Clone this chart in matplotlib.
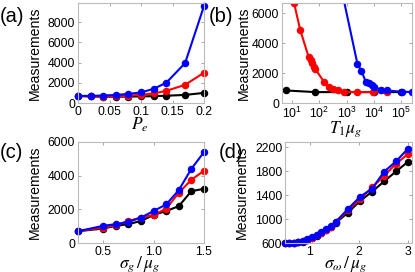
import matplotlib
matplotlib.use("Agg")
import matplotlib.pyplot as plt
from matplotlib.ticker import FixedFormatter

plt.rcParams['font.family'] = ['Liberation Sans', 'DejaVu Sans']
plt.rcParams['mathtext.fontset'] = 'stix'

# Panel (a): measurements vs P_e
pe = [0, 0.02, 0.04, 0.06, 0.08, 0.10, 0.12, 0.14, 0.17, 0.20]
a_blue = [700, 710, 740, 800, 900, 1050, 1400, 2000, 3950, 9600]
a_red = [700, 650, 640, 660, 720, 820, 950, 1200, 1800, 3000]
a_black = [700, 650, 620, 620, 640, 650, 680, 720, 800, 1000]

# Panel (b): measurements vs T1 mu_g (log x)
b_red_x = [12, 20, 41, 48, 55, 63, 72, 146, 222, 309, 468, 830, 2500, 9500, 31000]
b_red_y = [6670, 4890, 3070, 2890, 2670, 2440, 2270, 1440, 1070, 930, 840, 750, 730, 730, 730]
b_blue_x = [500, 2500, 3500, 5000, 6700, 8400, 10000, 19000, 31000, 110000, 250000]
b_blue_y = [8600, 2620, 2150, 1440, 1330, 1220, 1070, 890, 840, 750, 740]
b_black_x = [6, 72, 1000, 10000, 100000]
b_black_y = [840, 730, 730, 730, 730]
b_xticks = [1e1, 1e2, 1e3, 1e4, 1e5]
b_xticklabels = [r'$\mathregular{10^{1}}$', r'$\mathregular{10^{2}}$', r'$\mathregular{10^{3}}$',
                 r'$\mathregular{10^{4}}$', r'$\mathregular{10^{5}}$']

# Panel (c): measurements vs sigma_g / mu_g
sg = [0.25, 0.5, 0.625, 0.75, 0.875, 1.0, 1.125, 1.25, 1.375, 1.5]
c_blue = [700, 1020, 1120, 1250, 1510, 1900, 2290, 3140, 4410, 5400]
c_red = [700, 920, 1060, 1310, 1510, 1670, 2040, 2980, 3760, 4290]
c_black = [700, 860, 1020, 1120, 1310, 1670, 1900, 2190, 3080, 3220]

# Panel (d): measurements vs sigma_w / mu_g
sw = [0.5, 0.59, 0.68, 0.77, 0.86, 0.95, 1.05, 1.14, 1.24, 1.33, 1.43, 1.53,
      1.78, 2.02, 2.27, 2.51, 2.76, 3.0]
d_blue = [605, 605, 605, 616, 634, 662, 697, 737, 777, 828, 880, 954,
          1170, 1370, 1510, 1790, 1970, 2180]
d_red = [600, 600, 600, 610, 628, 655, 690, 730, 770, 820, 872, 945,
         1150, 1330, 1530, 1720, 1930, 2090]
d_black = [600, 600, 600, 610, 625, 650, 685, 722, 762, 812, 865, 935,
           1110, 1300, 1460, 1630, 1800, 1960]

fig = plt.figure(figsize=(4.15, 2.72), dpi=100)
W, H = 415, 272

def mkax(l, t, r, b):
    return fig.add_axes([l / W, 1 - b / H, (r - l) / W, (b - t) / H])

ax_a = mkax(78, 3, 204, 103)
ax_b = mkax(282, 3, 412, 103)
ax_c = mkax(78, 142, 204, 243)
ax_d = mkax(285, 142, 412, 243)

lw = 1.5
ms = 4.4
tick_fs = 8.8
lab_fs = 10.2
xl_fs = 12.5

def style(ax):
    for s in ax.spines.values():
        s.set_color('#bbbbbb')
        s.set_linewidth(0.8)
    ax.tick_params(direction='in', length=2.5, width=0.6, color='#999999',
                   labelsize=tick_fs, pad=2, top=True, right=True)

def place_labels(ax, xl_pos, yl_pos):
    ax.xaxis.set_label_coords(xl_pos[0] / W, 1 - xl_pos[1] / H, transform=fig.transFigure)
    ax.xaxis.label.set_va('center')
    ax.yaxis.set_label_coords(yl_pos[0] / W, 1 - yl_pos[1] / H, transform=fig.transFigure)
    ax.yaxis.label.set_va('center')

# (a)
for y, c in [(a_black, 'k'), (a_red, 'r'), (a_blue, 'b')]:
    ax_a.plot(pe, y, '-o', color=c, lw=lw, ms=ms, clip_on=False)
ax_a.set_xlim(0, 0.2)
ax_a.set_ylim(0, 9900)
ax_a.set_xticks([0, 0.05, 0.1, 0.15, 0.2])
ax_a.set_xticklabels(['0', '0.05', '0.1', '0.15', '0.2'])
ax_a.set_yticks([0, 2000, 4000, 6000, 8000])
ax_a.set_xlabel(r'$P_e$', fontsize=xl_fs)
style(ax_a)

# (b)
ax_b.plot(b_black_x, b_black_y, '-o', color='k', lw=lw, ms=ms)
ax_b.plot(b_red_x, b_red_y, '-o', color='r', lw=lw, ms=ms)
ax_b.plot(b_blue_x, b_blue_y, '-o', color='b', lw=lw, ms=ms)
ax_b.set_xscale('log')
ax_b.set_xlim(4.3, 2.5e5)
ax_b.set_ylim(0, 6700)
ax_b.set_xticks(b_xticks)
ax_b.minorticks_off()
ax_b.xaxis.set_major_formatter(FixedFormatter(b_xticklabels))
ax_b.set_yticks([0, 2000, 4000, 6000])
ax_b.set_xlabel(r'$T_1\mu_g$', fontsize=xl_fs)
style(ax_b)

# (c)
for y, c in [(c_black, 'k'), (c_red, 'r'), (c_blue, 'b')]:
    ax_c.plot(sg, y, '-o', color=c, lw=lw, ms=ms, clip_on=False)
ax_c.set_xlim(0.25, 1.5)
ax_c.set_ylim(0, 6000)
ax_c.set_xticks([0.5, 1.0, 1.5])
ax_c.set_xticklabels(['0.5', '1.0', '1.5'])
ax_c.set_yticks([0, 2000, 4000, 6000])
ax_c.set_xlabel(r'$\sigma_g\,/\,\mu_g$', fontsize=xl_fs)
style(ax_c)

# (d)
for y, c in [(d_black, 'k'), (d_red, 'r'), (d_blue, 'b')]:
    ax_d.plot(sw, y, '-o', color=c, lw=lw, ms=ms, clip_on=False)
ax_d.set_xlim(0.5, 3.08)
ax_d.set_ylim(600, 2290)
ax_d.set_xticks([1, 2, 3])
ax_d.set_yticks([600, 1000, 1400, 1800, 2200])
ax_d.set_xlabel(r'$\sigma_\omega\,/\,\mu_g$', fontsize=xl_fs)
style(ax_d)

for ax in (ax_a, ax_b, ax_c, ax_d):
    ax.set_ylabel('Measurements', fontsize=lab_fs)

place_labels(ax_a, (140, 125), (35, 53))
place_labels(ax_b, (346, 129), (244, 53))
place_labels(ax_c, (140, 264), (35, 192))
place_labels(ax_d, (346, 264), (242, 192))

fs_p = 14.5
fig.text(0 / W, 1 - 16 / H, '(a)', fontsize=fs_p, va='center', ha='left')
fig.text(209 / W, 1 - 16 / H, '(b)', fontsize=fs_p, va='center', ha='left')
fig.text(0 / W, 1 - 152 / H, '(c)', fontsize=fs_p, va='center', ha='left')
fig.text(219 / W, 1 - 152 / H, '(d)', fontsize=fs_p, va='center', ha='left')

fig.savefig('out.png', dpi=100)
